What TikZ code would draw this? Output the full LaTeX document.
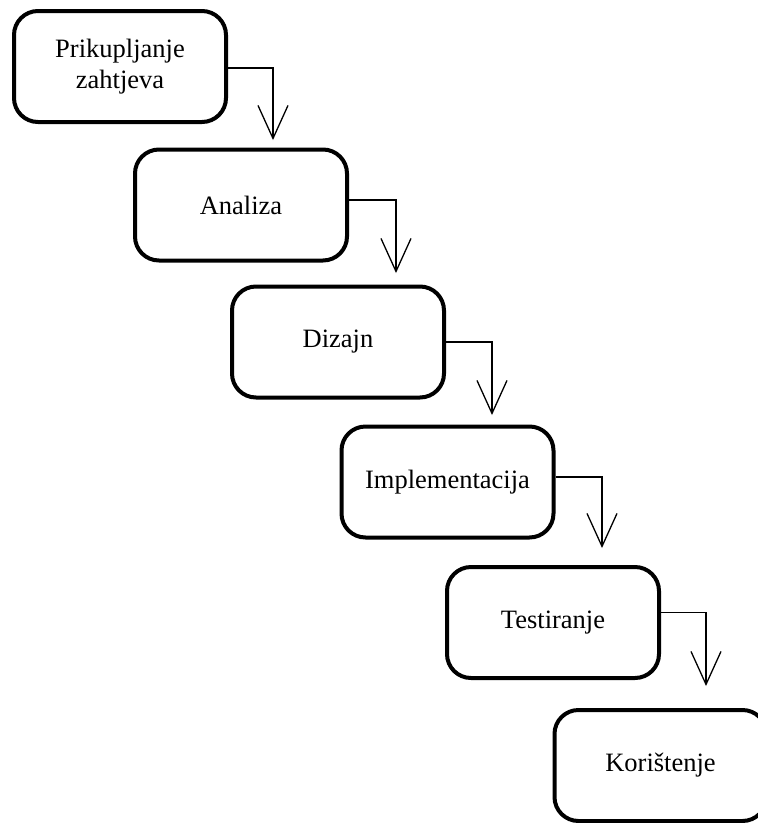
\documentclass[tikz,border=0pt]{standalone}
\usepackage{fontspec}
\setmainfont{Liberation Serif}
\usetikzlibrary{arrows.meta}

\tikzset{
  faza/.style={draw=black, line width=4pt, rounded corners=24pt, minimum width=212pt, minimum height=111pt, align=center, font=\fontsize{26.5}{31}\selectfont},
  tok/.style={draw=black, line width=1.3pt, -{Straight Barb[length=33pt,width=30pt,line width=1.3pt]}}
}

\begin{document}
\begin{tikzpicture}[x=1pt,y=-1pt]
\useasboundingbox (0,0) rectangle (758,823);
\clip (0,0) rectangle (758,823);
\node[faza] (b1) at (120,66.5) {Prikupljanje\\zahtjeva};
\node[faza] (b2) at (241,205) {Analiza};
\node[faza] (b3) at (338,342) {Dizajn};
\node[faza] (b4) at (447.5,482) {Implementacija};
\node[faza] (b5) at (553,622.5) {Testiranje};
\node[faza] (b6) at (660.5,765.5) {Korištenje};
\coordinate (t1) at (273,140);
\coordinate (t2) at (396,273);
\coordinate (t3) at (492,415);
\coordinate (t4) at (602,548);
\coordinate (t5) at (706,686);
\draw[tok] ([yshift=-1.5pt]b1.east) -| (t1);
\draw[tok] ([yshift=5pt]b2.east) -| (t2);
\draw[tok] (b3.east) -| (t3);
\draw[tok] ([yshift=5pt]b4.east) -| (t4);
\draw[tok] ([yshift=10pt]b5.east) -| (t5);
\end{tikzpicture}
\end{document}
